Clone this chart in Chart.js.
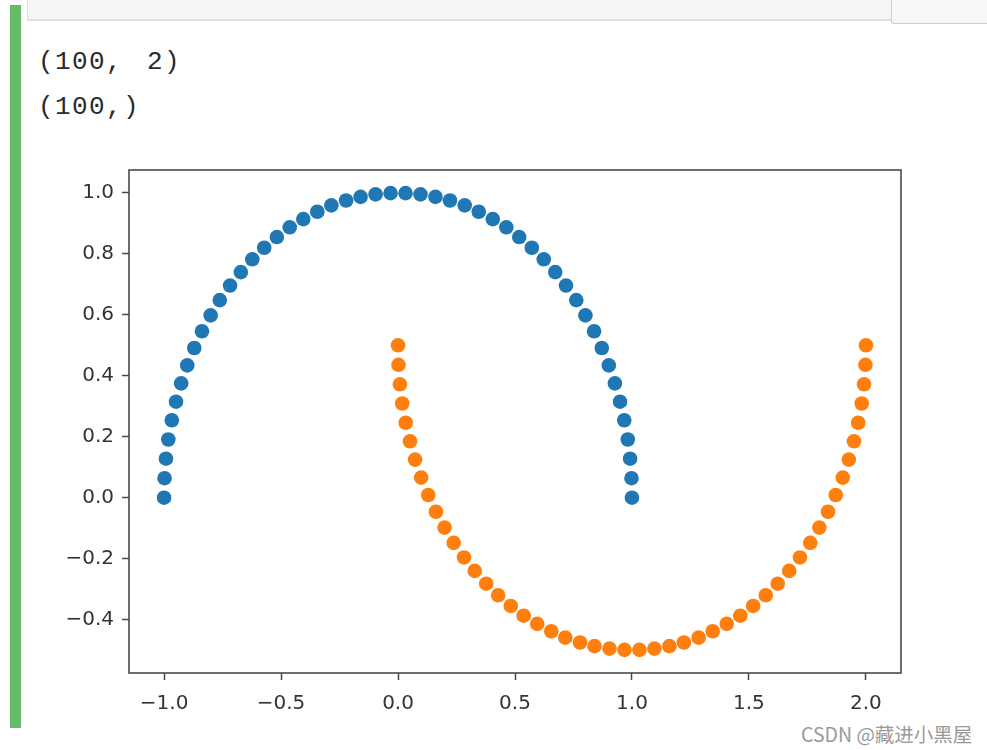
<!DOCTYPE html>
<html>
<head>
<meta charset="utf-8">
<script src="https://cdn.jsdelivr.net/npm/chart.js@4/dist/chart.umd.min.js"></script>
<style>
  html, body { margin:0; padding:0; background:#fff; width:987px; height:750px; overflow:hidden; }
  #green { position:absolute; left:10px; top:5px; width:11px; height:723px; background:#66bb6a; }
  #topbox { position:absolute; left:27px; top:0; width:864px; height:19px; background:#f5f5f5; border-left:1px solid #ddd; border-bottom:2px solid #dedede; }
  #rightbox { position:absolute; left:891px; top:0; width:96px; height:23px; background:#f7f7f7; border-left:1px solid #cfcfcf; border-bottom:1px solid #cfcfcf; border-bottom-left-radius:3px; }
  .out { position:absolute; left:38px; font-family:"Liberation Mono", monospace; font-size:26px; color:#2a2a2a; letter-spacing:1.4px; word-spacing:7px; white-space:pre; }
  #wm { position:absolute; left:801px; top:719px; font-family:"Noto Sans CJK SC", sans-serif; font-size:19.5px; color:#9a9a9a; }
  #c { position:absolute; left:0; top:0; }
</style>
</head>
<body>
<div id="green"></div>
<div id="topbox"></div>
<div id="rightbox"></div>
<div class="out" style="top:47px">(100, 2)</div>
<div class="out" style="top:92px">(100,)</div>
<div id="wm">CSDN @藏进小黑屋</div>
<canvas id="c" width="987" height="750"></canvas>
<script>
const blueX = [1.000, 0.998, 0.992, 0.982, 0.967, 0.949, 0.927, 0.901, 0.871, 0.838, 0.801, 0.762, 0.718, 0.672, 0.623, 0.572, 0.518, 0.463, 0.405, 0.345, 0.285, 0.222, 0.160, 0.096, 0.032,
  -0.032, -0.096, -0.160, -0.222, -0.285, -0.345, -0.405, -0.463, -0.518, -0.572, -0.623, -0.672, -0.718, -0.762, -0.801, -0.838, -0.871, -0.901, -0.927, -0.949, -0.967, -0.982, -0.992, -0.998, -1.000];
const blueY = [0.000, 0.064, 0.128, 0.191, 0.254, 0.315, 0.375, 0.434, 0.491, 0.546, 0.598, 0.648, 0.696, 0.740, 0.782, 0.820, 0.855, 0.887, 0.914, 0.938, 0.959, 0.975, 0.987, 0.995, 0.999,
  0.999, 0.995, 0.987, 0.975, 0.959, 0.938, 0.914, 0.887, 0.855, 0.820, 0.782, 0.740, 0.696, 0.648, 0.598, 0.546, 0.491, 0.434, 0.375, 0.315, 0.254, 0.191, 0.128, 0.064, 0.000];
const orangeX = [0.000, 0.002, 0.008, 0.018, 0.033, 0.051, 0.073, 0.099, 0.129, 0.162, 0.199, 0.238, 0.282, 0.328, 0.377, 0.428, 0.482, 0.537, 0.595, 0.655, 0.715, 0.778, 0.840, 0.904, 0.968,
  1.032, 1.096, 1.160, 1.222, 1.285, 1.345, 1.405, 1.463, 1.518, 1.572, 1.623, 1.672, 1.718, 1.762, 1.801, 1.838, 1.871, 1.901, 1.927, 1.949, 1.967, 1.982, 1.992, 1.998, 2.000];
const orangeY = [0.500, 0.436, 0.372, 0.309, 0.246, 0.185, 0.125, 0.066, 0.009, -0.046, -0.098, -0.148, -0.196, -0.240, -0.282, -0.320, -0.355, -0.387, -0.414, -0.438, -0.459, -0.475, -0.487, -0.495, -0.499,
  -0.499, -0.495, -0.487, -0.475, -0.459, -0.438, -0.414, -0.387, -0.355, -0.320, -0.282, -0.240, -0.196, -0.148, -0.098, -0.046, 0.009, 0.066, 0.125, 0.185, 0.246, 0.309, 0.372, 0.436, 0.500];
const xTicks = [-1.0, -0.5, 0.0, 0.5, 1.0, 1.5, 2.0];
const yTicks = [-0.4, -0.2, 0.0, 0.2, 0.4, 0.6, 0.8, 1.0];

const toPts = (xs, ys) => xs.map((x, i) => ({ x: x, y: ys[i] }));
const fmt = v => (v < 0 ? '\u2212' : '') + Math.abs(v).toFixed(1);

const frame = {
  id: 'frame',
  afterDraw(chart) {
    const a = chart.chartArea, ctx = chart.ctx;
    ctx.save();
    ctx.strokeStyle = '#4a4a4a';
    ctx.lineWidth = 1.6;
    ctx.strokeRect(a.left, a.top, a.right - a.left, a.bottom - a.top);
    ctx.restore();
  }
};

new Chart(document.getElementById('c'), {
  type: 'scatter',
  data: {
    datasets: [
      { data: toPts(blueX, blueY), backgroundColor: '#1f77b4', pointRadius: 7.3, borderWidth: 0, pointHoverRadius: 7.3 },
      { data: toPts(orangeX, orangeY), backgroundColor: '#ff7f0e', pointRadius: 7.3, borderWidth: 0, pointHoverRadius: 7.3 }
    ]
  },
  options: {
    responsive: false,
    devicePixelRatio: 1,
    animation: false,
    events: [],
    layout: { padding: { top: 170, right: 86, left: 0, bottom: 0 } },
    plugins: { legend: { display: false }, tooltip: { enabled: false } },
    scales: {
      x: {
        type: 'linear', min: -1.15, max: 2.15,
        afterBuildTicks: s => { s.ticks = xTicks.map(v => ({ value: v })); },
        afterFit: s => { s.height = 77; },
        grid: { display: true, drawOnChartArea: false, drawTicks: true, tickLength: 7, tickColor: '#4a4a4a', tickWidth: 1.5 },
        border: { display: false },
        ticks: { callback: fmt, color: '#333333', font: { family: 'DejaVu Sans', size: 20 }, padding: 12, maxRotation: 0, autoSkip: false }
      },
      y: {
        type: 'linear', min: -0.575, max: 1.075,
        afterBuildTicks: s => { s.ticks = yTicks.map(v => ({ value: v })); },
        afterFit: s => { s.width = 129; },
        grid: { display: true, drawOnChartArea: false, drawTicks: true, tickLength: 7, tickColor: '#4a4a4a', tickWidth: 1.5 },
        border: { display: false },
        ticks: { callback: fmt, color: '#333333', font: { family: 'DejaVu Sans', size: 20 }, padding: 8, autoSkip: false }
      }
    }
  },
  plugins: [frame]
});
</script>
</body>
</html>
